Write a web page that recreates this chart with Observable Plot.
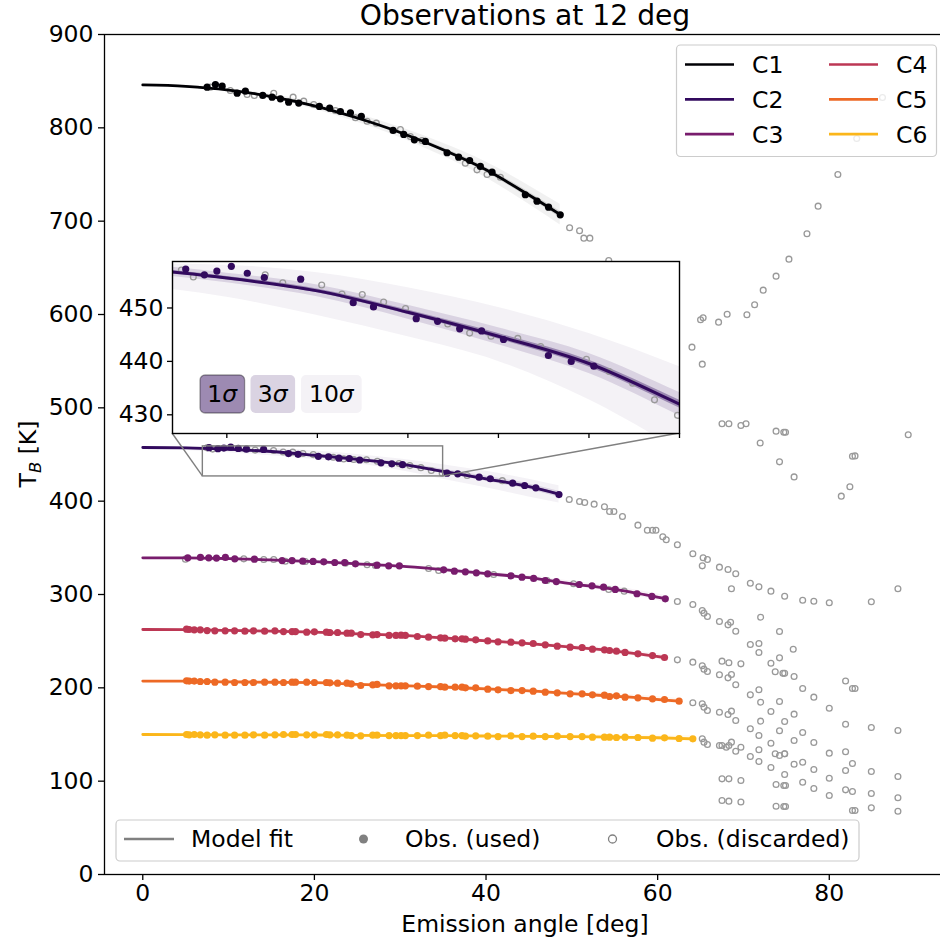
<!DOCTYPE html>
<html><head><meta charset="utf-8">
<script src="https://cdn.jsdelivr.net/npm/d3@7"></script>
<script src="https://cdn.jsdelivr.net/npm/@observablehq/plot@0.6"></script>
<style>
html,body{margin:0;padding:0;background:#fff;overflow:hidden;width:940px;height:943px;}
#wrap{position:relative;width:940px;height:943px;overflow:hidden;}
#wrap svg{position:absolute;max-width:none !important;}
</style></head><body><div id="wrap"></div>
<script>
// ---------------- DATA ----------------
const titleText = "Observations at 12 deg";
const xLabel = "Emission angle [deg]";
const channels = ["C1","C2","C3","C4","C5","C6"];
const xTicks = [0,20,40,60,80];
const yTicks = [0,100,200,300,400,500,600,700,800,900];
const insetXTicks = [10,15,20,25,30,35];
const insetYTicks = [430,440,450];
const insetXDomain = [7,35];
const insetYDomain = [426.5,458.7];
const sigmaLabels = ["1","3","10"];
const legendLabels = ["Model fit","Obs. (used)","Obs. (discarded)"];

// model fits (angle, T) and 1-sigma widths
const fitAngleC1 = [0,5,10,15,20,25,30,35,40,45,48.65];
const fitTC1 = [846,844.5,840.5,833.5,823.5,810.5,795,776.5,755,728,707];
const sigmaC1 = [0.05,0.1,0.15,0.25,0.35,0.45,0.55,0.7,0.85,1.0,1.1];

const fitAngleC2 = [0,5,10,15,20,25,30,35,40,45,48.5];
const fitTC2 = [457.5,457.2,455.6,453.2,449.2,444.7,439.6,432,424,415.5,407.5];
const sigmaC2 = [0.23,0.27,0.3,0.37,0.43,0.53,0.63,0.73,0.87,1.0,1.07];
const band10LoC2 = [455.2,454.2,452,448.6,444.6,440,432.8,423.5,414.5,404.5,398];
const band10HiC2 = [458.4,458.3,458,456.6,453.8,450.1,445.2,439,432,423.5,416.5];

const fitAngleC3 = [0,5,10,15,20,25,30,35,40,45,50,55,60.9];
const fitTC3 = [339.3,339.3,338.5,337,335.3,332.8,330.4,326.6,322.4,318,311.5,305.5,295.5];
const sigmaC3 = [0.05,0.06,0.08,0.1,0.12,0.14,0.16,0.18,0.2,0.23,0.26,0.3,0.35];

const fitAngleC4 = [0,5,10,15,20,25,30,35,40,45,50,55,60.8];
const fitTC4 = [262.5,262.4,261.5,260.7,259.7,257.9,256.2,253.5,250.4,247.3,243.5,239.4,232.5];
const sigmaC4 = [0.05,0.06,0.07,0.08,0.1,0.12,0.14,0.16,0.18,0.2,0.23,0.26,0.3];

const fitAngleC5 = [0,5,10,15,20,25,30,35,40,45,50,55,62.5];
const fitTC5 = [207.2,207.1,206.4,206,205.6,203.8,202.3,200.9,198.8,196.7,193.7,191.2,185.7];
const sigmaC5 = [0.05,0.06,0.07,0.08,0.1,0.12,0.14,0.16,0.18,0.2,0.23,0.26,0.3];

const fitAngleC6 = [0,5,10,15,20,25,30,35,40,45,50,55,60,64.1];
const fitTC6 = [150,149.8,149.5,149.5,149.5,149.1,148.9,148.9,148.4,148.0,147.7,147.1,146.5,145.4];
const sigmaC6 = [0.05,0.06,0.07,0.08,0.1,0.12,0.14,0.16,0.18,0.2,0.23,0.26,0.3,0.33];

// used observations
const usedAngleC1 = [7.5,8.47,9.25,11.0,11.96,13.98,15.07,16.04,17.0,18.17,20.58,21.78,23.03,24.2,25.47,29.17,30.41,31.65,32.93,35.46,36.81,38.09,39.34,40.7,44.58,45.94,47.29,48.65];
const usedTC1 = [843.6,846.4,844.6,837.1,839.3,834.7,832.9,831.1,827.5,826.5,822.9,821.1,817.5,816.1,812.2,797.2,792.9,787.2,785.4,773.3,768.6,765.0,758.6,752.5,728.3,721.4,715.0,706.8];

const usedAngleC2 = [7.73,8.76,9.45,10.25,11.13,12.07,14.08,16.98,18.1,20.46,21.64,22.86,24.07,25.28,27.76,29.02,30.27,35.45,36.7,39.2,40.5,43.1,44.5,45.8,48.5];
const usedTC2 = [457.3,456.2,456.9,457.8,456.5,455.7,455.4,451.0,450.2,448.0,447.5,446.1,445.7,444.1,441.1,440.0,439.1,430.0,429.3,425.7,424.0,419.3,416.8,414.3,407.1];

const usedAngleC3 = [5.24,6.72,7.69,8.59,9.63,10.72,13.01,16.24,17.4,18.64,19.85,21.09,22.37,23.53,24.78,27.3,28.66,29.9,35.06,36.31,37.59,38.87,40.19,42.91,44.19,45.55,46.9,48.19,50.87,52.35,53.7,55.06,57.59,59.33,60.89];
const usedTC3 = [339.3,339.7,339.3,339.0,339.7,338.2,337.9,336.4,336.4,335.7,335.4,335.0,334.3,334.3,332.9,331.4,330.7,330.7,326.4,325.0,324.3,323.2,322.2,320.0,318.6,317.2,315.0,313.9,310.7,309.3,307.8,305.4,300.8,297.9,295.4];

const usedAngleC4toC6 = [5.1,5.4,6.0,6.7,7.5,8.4,9.6,10.7,11.9,12.9,14.2,15.4,16.4,17.4,17.8,19.1,20.0,21.4,21.8,22.7,23.8,24.3,25.4,26.8,27.3,28.7,29.5,30.1,30.6,32.0,33.3,34.7,35.2,36.4,37.2,37.6,38.8,40.2,41.4,42.9,44.2,45.5,46.9,48.3,49.8,51.2,52.4,53.8,54.4,55.2,56.2,57.7,59.4,60.8,62.5,64.1];
const usedTC4 = [262.9,262.5,262.2,262.2,261.4,261.1,261.1,261.1,260.7,261.1,260.7,261.1,260.3,260.3,260.3,259.6,260.0,259.6,259.3,259.3,258.6,258.6,257.1,256.8,257.1,256.1,256.1,256.4,256.1,255.0,254.3,253.6,253.2,252.5,252.5,252.1,251.4,250.3,249.3,248.9,248.2,247.5,246.1,244.6,243.6,243.2,241.4,240.7,240.0,239.3,237.9,236.4,234.6,232.5];
const usedTC5 = [207.5,207.2,207.2,206.8,206.8,206.1,206.1,205.7,205.7,205.7,206.1,206.1,205.7,206.1,206.1,206.1,205.7,205.7,205.4,205.0,205.0,204.3,202.5,203.2,203.6,202.2,202.2,202.2,202.2,201.8,201.4,201.4,200.7,200.7,200.7,200.0,200.0,198.6,197.9,197.1,197.1,196.4,195.4,194.6,193.6,193.6,192.5,192.1,190.7,191.4,190.0,189.3,188.2,187.5,185.7];
const usedTC6 = [150.0,149.6,150.0,149.6,149.3,149.6,149.3,149.3,149.3,149.6,149.3,149.6,150.0,150.0,150.0,149.6,149.6,150.0,149.6,149.6,149.3,148.9,148.6,149.3,149.3,148.9,148.9,148.9,148.9,148.9,149.3,148.9,149.3,148.9,148.9,148.2,148.6,148.2,147.8,148.6,147.8,148.2,147.8,148.2,147.8,147.8,147.1,147.1,147.1,146.8,147.1,146.8,146.1,146.4,145.7,145.4];

// discarded observations [angle, T]
const discardedC1 = [[7.89,843.6],[10.2,840.0],[12.16,835.7],[13.0,834.7],[15.26,837.1],[17.52,832.9],[18.76,828.6],[19.92,825.0],[22.45,818.6],[24.78,810.8],[26.14,807.1],[27.22,805.0],[30.02,798.2],[31.18,790.7],[32.54,786.4],[37.59,762.1],[38.95,755.0],[40.12,750.0],[41.67,747.1],
 [49.74,692.9],[50.9,689.7],[51.4,681.8],[52.1,681.8],[54.3,657.9],[64.0,565.0],[65.2,546.8],[65.0,594.3],[65.3,596.5],[67.1,591.8],[68.1,600.3],[70.4,599.7],[71.3,610.4],[72.3,626.1],[73.8,641.1],[75.3,659.3],[77.4,686.5],[78.7,716.1],[81.0,750],[83.2,788.6],[86.2,832.5],
 [67.5,482.9],[68.3,482.9],[69.7,481.1],[70.3,482.9],[71.95,462.3],[73.8,475.0],[74.7,473.9],[74.9,473.9],[89.2,471.1],[74.2,442.1],[75.9,426],[82.7,448.2],[83.0,448.5],[82.4,415.4],[81.4,405.4]];
const discardedC2 = [[7.49,457.1],[8.15,455.8],[12.12,456.2],[13.09,454.7],[15.24,454.3],[16.36,452.6],[17.48,452.5],[18.66,451.1],[19.87,449.9],[22.2,447.0],[23.41,445.3],[24.59,444.7],[26.07,444.3],[27.33,442.8],[29.86,440.4],[31.12,438.1],[32.41,435.9],[33.62,432.8],[34.89,429.9],[37.8,427.5],[41.9,422.0],
 [49.7,401.8],[50.9,399.6],[51.5,398.6],[52.6,396.8],[53.8,394.0],[54.4,389],[54.9,389],[55.9,383.6],[57.7,374.3],[58.8,368.9],[59.4,368.9],[59.8,368.9],[60.6,361.8],[61.0,358.6],[62.3,353.3],[64.1,343.6],[65.2,330.7],[65.3,339.3],[65.8,337.5],[67.2,329.3],[68.2,326.8],[69.1,322.2],[68.6,306.1],[70.8,312.1],[71.8,308.2],[72.0,275.7],[73.2,303.6],[74.8,298.2],[74.2,260.4],[76.9,293.9],[78.2,292.8],[80.0,291.1],[84.9,292.2],[88.0,306.1]];
const discardedC3 = [[4.97,337.9],[11.77,338.2],[14.1,337.5],[15.26,337.5],[16.62,335.7],[18.95,335.4],[23.61,333.6],[26.14,331.8],[27.1,331.1],[33.31,327.9],[34.48,325.7],[40.89,321.4],[47.1,315.0],[50.2,311.5],[54.3,305.4],[56.1,303.6],
 [62.3,292.5],[64.1,289.3],[65.2,282.9],[65.4,280],[65.8,276.4],[67.2,271.1],[68.2,267.5],[68.5,270.3],[69.1,260.7],[70.8,246.4],[71.8,247.5],[71.8,237.9],[75.8,241.4],[73.2,226.4],[74.2,232.1],[73.7,217.3],[74.6,215.5],[74.8,215.5],[75.9,212.1],[76.9,199.3],[78.2,190],[80.0,178.2],[81.9,207.4],[82.7,199.3],[83.0,199.3],[84.9,157.5],[88.0,154.3]];
const discardedC4 = [[62.3,230],[64.1,227.5],[65.2,223.6],[65.4,220],[65.8,217.5],[67.2,214],[67.5,228.6],[68.3,226.8],[69.7,225.7],[68.2,210.7],[68.6,214.3],[69.1,203.3],[70.8,192.5],[71.8,197.9],[72.0,184.6],[73.2,174.6],[74.2,185.4],[74.8,163.9],[75.9,171.8],[76.9,152.1],[78.2,141.4],[80.0,130],[81.9,161],[81.9,131.5],[84.9,110.4],[88.0,105]];
const discardedC5 = [[64.1,184],[65.2,182.9],[65.4,179.3],[65.8,175.7],[67.2,173.9],[68.2,171.4],[68.6,175],[69.1,165],[70.8,156.1],[71.8,148.9],[72.0,164.3],[73.2,140.7],[74.2,154],[74.8,129.3],[75.9,143.6],[76.9,120.3],[78.2,112.5],[80.0,103.2],[81.9,111.4],[82.7,118.9],[84.9,86.8],[88.0,82.2]];
const discardedC6 = [[65.2,145.4],[65.4,141.8],[65.8,139.3],[67.2,138.2],[67.5,138.2],[68.0,136.4],[68.3,138.2],[68.6,141.8],[69.1,132.1],[69.7,136.4],[70.8,126.4],[71.8,133.6],[71.8,121.1],[73.2,114.6],[73.7,129.3],[74.2,127.5],[74.8,129.3],[74.8,107.1],[75.9,118.2],[76.9,98.9],[78.2,92.1],[80.0,84.6],[81.9,90.7],[82.7,88.9],[84.9,71.4],[88.0,67.8],
 [67.5,102.5],[68.3,102.5],[69.7,100.7],[67.5,79.3],[68.3,78.6],[69.7,77.6],[73.8,96.4],[74.7,95.4],[74.9,95.4],[73.8,73.2],[74.7,72.8],[74.9,72.8],[82.7,68.6],[83.0,68.6]];

// ---------------- BUILD ----------------
const FONT = '"DejaVu Sans", sans-serif';
const FS = 23.5;         // base font size
const colors = channels.map((_, i) => d3.interpolateInferno(i / 6));
const GRAY = "#808080";
const DISC = "#999999";

const fitSrc = [
  [fitAngleC1, fitTC1, sigmaC1],
  [fitAngleC2, fitTC2, sigmaC2],
  [fitAngleC3, fitTC3, sigmaC3],
  [fitAngleC4, fitTC4, sigmaC4],
  [fitAngleC5, fitTC5, sigmaC5],
  [fitAngleC6, fitTC6, sigmaC6]
];
const fitRows = fitSrc.map(([A, T, S], ci) => A.map((a, j) => ({
  a, t: T[j], s: S[j],
  lo10: ci === 1 ? band10LoC2[j] : T[j] - 10 * S[j],
  hi10: ci === 1 ? band10HiC2[j] : T[j] + 10 * S[j]
})));

const usedSrc = [
  [usedAngleC1, usedTC1], [usedAngleC2, usedTC2], [usedAngleC3, usedTC3],
  [usedAngleC4toC6, usedTC4], [usedAngleC4toC6, usedTC5], [usedAngleC4toC6, usedTC6]
];
const usedRows = usedSrc.map(([A, T]) => T.map((t, j) => ({a: A[j], t})));
const discRows = [discardedC1, discardedC2, discardedC3, discardedC4, discardedC5, discardedC6]
  .flat().map(([a, t]) => ({a, t}));

function bandMarks(rows, color, extra = {}) {
  return [
    Plot.areaY(rows, {x: "a", y1: "lo10", y2: "hi10", fill: color, fillOpacity: 0.056, curve: "monotone-x", ...extra}),
    Plot.areaY(rows, {x: "a", y1: d => d.t - 3 * d.s, y2: d => d.t + 3 * d.s, fill: color, fillOpacity: 0.13, curve: "monotone-x", ...extra}),
    Plot.areaY(rows, {x: "a", y1: d => d.t - d.s, y2: d => d.t + d.s, fill: color, fillOpacity: 0.37, curve: "monotone-x", ...extra})
  ];
}

const W = 946, H = 943, ML = 104, MT = 34, MB = 69;
const main = Plot.plot({
  width: W, height: H,
  marginLeft: ML, marginRight: 0, marginTop: MT, marginBottom: MB,
  style: {fontFamily: FONT, fontSize: FS + "px", background: "transparent", color: "black", maxWidth: "none"},
  x: {domain: [-4.46, 93.66]},
  y: {domain: [0, 900]},
  marks: [
    ...fitRows.flatMap((rows, i) => bandMarks(rows, colors[i])),
    Plot.dot(discRows, {x: "a", y: "t", r: 2.9, stroke: DISC, strokeWidth: 1.3, fill: "none"}),
    ...fitRows.map((rows, i) => Plot.line(rows, {x: "a", y: "t", stroke: colors[i], strokeWidth: 2.8, curve: "monotone-x"})),
    ...usedRows.map((rows, i) => Plot.dot(rows, {x: "a", y: "t", r: 3.6, fill: colors[i]})),
    Plot.rect([{x: insetXDomain, y: insetYDomain}], {x1: d => d.x[0], x2: d => d.x[1], y1: d => d.y[0], y2: d => d.y[1], fill: "none", stroke: GRAY, strokeWidth: 1.4}),
    Plot.axisX({ticks: xTicks, tickSize: 6, tickPadding: 4, label: null, strokeWidth: 1.3}),
    Plot.axisY({ticks: yTicks, tickSize: 6, tickPadding: 5, label: null, strokeWidth: 1.3}),
    Plot.frame({stroke: "black", strokeWidth: 1.3})
  ]
});
main.style.left = "0px"; main.style.top = "0px";
main.style.width = W + "px"; main.style.height = H + "px";
document.getElementById("wrap").appendChild(main);

const xs = main.scale("x"), ys = main.scale("y");

// ---- inset ----
const IN = {left: 172, top: 261, width: 507, height: 172};
const iML = 64, iMR = 2, iMT = 2, iMB = 10;
const c2 = 1;
const IW = IN.width + iML + iMR, IH = IN.height + iMT + iMB;
const inset = Plot.plot({
  width: IW, height: IH,
  marginLeft: iML, marginRight: iMR, marginTop: iMT, marginBottom: iMB,
  style: {fontFamily: FONT, fontSize: FS + "px", background: "transparent", color: "black", overflow: "visible", maxWidth: "none"},
  x: {domain: insetXDomain},
  y: {domain: insetYDomain},
  marks: [
    Plot.frame({fill: "white"}),
    ...bandMarks(fitRows[c2], colors[c2], {clip: true}),
    Plot.dot(discRows, {x: "a", y: "t", r: 2.9, stroke: DISC, strokeWidth: 1.3, fill: "none", clip: true}),
    Plot.line(fitRows[c2], {x: "a", y: "t", stroke: colors[c2], strokeWidth: 3, curve: "monotone-x", clip: true}),
    Plot.dot(usedRows[c2], {x: "a", y: "t", r: 3.6, fill: colors[c2], clip: true}),
    Plot.axisX({ticks: insetXTicks, tickSize: 5, tickFormat: () => "", label: null, strokeWidth: 1.3}),
    Plot.axisY({ticks: insetYTicks, tickSize: 5, tickPadding: 4, label: null, strokeWidth: 1.3}),
    Plot.frame({stroke: "black", strokeWidth: 1.4})
  ]
});
inset.style.left = (IN.left - iML) + "px";
inset.style.top = (IN.top - iMT) + "px";
inset.style.width = IW + "px"; inset.style.height = IH + "px";
document.getElementById("wrap").appendChild(inset);

// sigma legend inside inset
const ig = d3.select(inset).append("g").attr("font-family", FONT).attr("font-size", FS).attr("text-anchor", "middle").attr("fill", "black");
const sigBoxes = [{x: 28, w: 44.6, op: 0.48, stroke: "rgba(0,0,0,0.35)"}, {x: 78.5, w: 44.6, op: 0.18, stroke: "none"}, {x: 129, w: 60.7, op: 0.056, stroke: "none"}];
sigBoxes.forEach((b, i) => {
  ig.append("rect").attr("x", iML + b.x).attr("y", iMT + 114).attr("width", b.w).attr("height", 38).attr("rx", 5)
    .attr("fill", colors[c2]).attr("fill-opacity", b.op).attr("stroke", b.stroke).attr("stroke-width", 1.3);
  const t = ig.append("text").attr("x", iML + b.x + b.w / 2).attr("y", iMT + 114 + 19).attr("dy", "0.36em");
  t.append("tspan").text(sigmaLabels[i]);
  t.append("tspan").attr("font-style", "italic").text("σ");
});

// ---- annotations on main ----
const g = d3.select(main).append("g").attr("font-family", FONT).attr("fill", "black").attr("text-anchor", "start");
// connectors
g.append("line").attr("x1", xs.apply(insetXDomain[0])).attr("y1", ys.apply(insetYDomain[0])).attr("x2", IN.left).attr("y2", IN.top + IN.height).attr("stroke", GRAY).attr("stroke-width", 1.4);
g.append("line").attr("x1", xs.apply(insetXDomain[1])).attr("y1", ys.apply(insetYDomain[0])).attr("x2", IN.left + IN.width).attr("y2", IN.top + IN.height).attr("stroke", GRAY).attr("stroke-width", 1.4);

// title
g.append("text").attr("x", (ML + W) / 2).attr("y", 25).attr("text-anchor", "middle").attr("font-size", FS * 1.2).text(titleText);
// x label
g.append("text").attr("x", (ML + W) / 2).attr("y", 932).attr("text-anchor", "middle").attr("font-size", FS).text(xLabel);
// y label
const yl = g.append("text").attr("transform", `translate(36,${(MT + H - MB) / 2}) rotate(-90)`).attr("text-anchor", "middle").attr("font-size", FS);
yl.append("tspan").text("T");
yl.append("tspan").attr("font-style", "italic").attr("font-size", FS * 0.7).attr("dy", 5).text("B");
yl.append("tspan").attr("dy", -5).text(" [K]");

// channel legend (top right)
const lg = g.append("g");
lg.append("rect").attr("x", 676.5).attr("y", 45).attr("width", 260).attr("height", 111.5).attr("rx", 4)
  .attr("fill", "white").attr("fill-opacity", 0.8).attr("stroke", "#cccccc").attr("stroke-width", 1.2);
channels.forEach((name, i) => {
  const col = Math.floor(i / 3), row = i % 3;
  const x0 = col ? 829 : 685, y = 64.5 + row * 34.8;
  lg.append("line").attr("x1", x0).attr("x2", x0 + 49).attr("y1", y).attr("y2", y).attr("stroke", colors[i]).attr("stroke-width", 2.7);
  lg.append("text").attr("x", x0 + 67).attr("y", y).attr("dy", "0.36em").attr("font-size", FS).text(name);
});

// marker legend (bottom)
const bl = g.append("g");
bl.append("rect").attr("x", 116).attr("y", 820).attr("width", 743).attr("height", 41).attr("rx", 4)
  .attr("fill", "white").attr("fill-opacity", 0.8).attr("stroke", "#cccccc").attr("stroke-width", 1.2);
const by = 839;
bl.append("line").attr("x1", 124).attr("x2", 174).attr("y1", by).attr("y2", by).attr("stroke", GRAY).attr("stroke-width", 2.7);
bl.append("text").attr("x", 191).attr("y", by).attr("dy", "0.36em").attr("font-size", FS).text(legendLabels[0]);
bl.append("circle").attr("cx", 363.5).attr("cy", by).attr("r", 4.5).attr("fill", GRAY);
bl.append("text").attr("x", 405).attr("y", by).attr("dy", "0.36em").attr("font-size", FS).text(legendLabels[1]);
bl.append("circle").attr("cx", 612.5).attr("cy", by).attr("r", 4).attr("fill", "none").attr("stroke", GRAY).attr("stroke-width", 1.3);
bl.append("text").attr("x", 656).attr("y", by).attr("dy", "0.36em").attr("font-size", FS).text(legendLabels[2]);
</script></body></html>
